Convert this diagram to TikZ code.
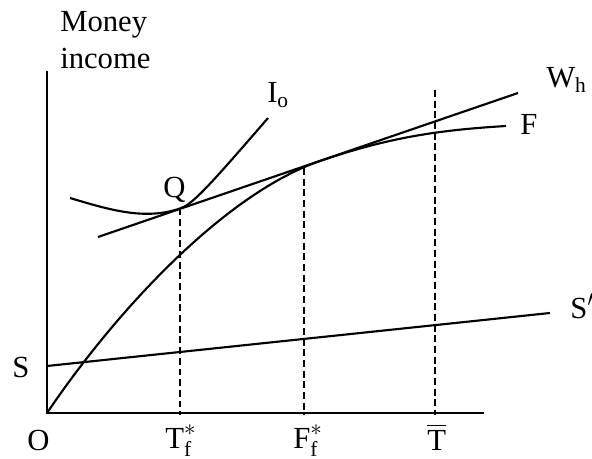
\documentclass[tikz,border=0pt]{standalone}
\usepackage{amsmath}
\usepackage{fontspec}
\setmainfont{Liberation Serif}
\usetikzlibrary{positioning}

\begin{document}
\begin{tikzpicture}[
  x=0.75pt,y=-0.75pt,
  curve/.style={line width=1.6pt},
  guide/.style={line width=1.4pt,dash pattern=on 5.2pt off 2.8pt},
  lbl/.style={inner sep=0pt,anchor=base west,font=\fontsize{23}{27.75}\selectfont}
]
\useasboundingbox (0,0) rectangle (592,459);
% axes
\coordinate (O) at (47,413);
\coordinate (ytop) at (47,71);
\coordinate (xend) at (484,413);
\draw[curve] (ytop) -- (O) -- (xend);
% key points
\coordinate (Q) at (180,208.5);
\coordinate (touch) at (320,161);
\coordinate (Fend) at (506,126);
\coordinate (Wstart) at (98,237);
\coordinate (Wend) at (518,93);
\coordinate (Sstart) at (47,366);
\coordinate (Send) at (550,313);
\coordinate (Istart) at (70,198);
\coordinate (Iend) at (268,118);
% curves
\draw[curve] (O) .. controls (120,305) and (228,192.5) .. (touch)
  .. controls (390,137) and (440,130) .. (Fend);
\draw[curve] (Wstart) -- (Wend);
\draw[curve] (Sstart) -- (Send);
\draw[curve] (Istart) .. controls (110,210) and (145,220.5) .. (Q)
  .. controls (192,204.4) and (205,191) .. (Iend);
% guides
\draw[guide] (Q) -- (180,415);
\draw[guide] (304,168) -- (304,415);
\draw[guide] (435,90) -- (435,415);
% labels
\node[lbl] (money) at (60,32) {Money};
\node[lbl,below=27.75pt of money.base west,anchor=base west] (income) {income};
\node[lbl] (Io) at (267,103) {$\text{I}_{\text{o}}$};
\node[lbl] (Wh) at (546,88) {$\text{W}_{\text{h}}$};
\node[lbl] (Flbl) at (520,135) {F};
\node[lbl] (Sp) at (570,319) {$\text{S}'$};
\node[lbl] (Slbl) at (12,378) {S};
\node[lbl] (Qlbl) at (163,198) {Q};
\node[lbl] (Olbl) at (27,450) {O};
\node[lbl] (Tf) at (165,448) {$\text{T}_{\text{f}}^{*}$};
\node[lbl] (Ff) at (293,448) {$\text{F}_{\text{f}}^{*}$};
\node[lbl] (Tbar) at (427,450) {$\overline{\text{T}}$};
\end{tikzpicture}
\end{document}
